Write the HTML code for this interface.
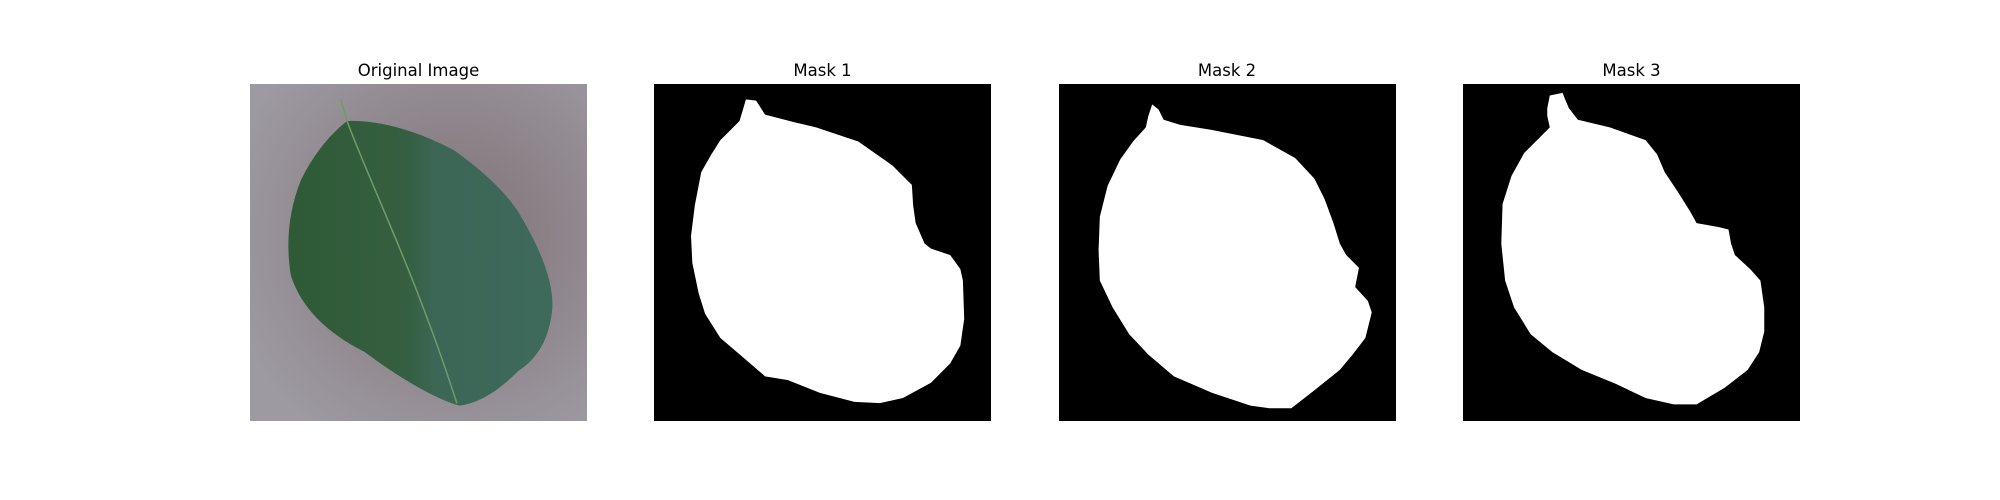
<!DOCTYPE html>
<html><head><meta charset="utf-8"><style>
html,body{margin:0;padding:0;background:#fff}
svg{display:block}
text{font-family:"DejaVu Sans","Liberation Sans",sans-serif;font-size:16.5px;fill:#000}
</style></head><body>
<svg width="2000" height="500" viewBox="0 0 2000 500">
<defs>
<linearGradient id="lg" x1="0" y1="0" x2="1" y2="0">
<stop offset="0" stop-color="#2f5a36"/><stop offset="0.45" stop-color="#355f40"/><stop offset="0.55" stop-color="#3c6656"/><stop offset="1" stop-color="#3e6a5c"/>
</linearGradient>
<radialGradient id="bg" cx="0.6" cy="0.45" r="0.7">
<stop offset="0" stop-color="#7e7276"/><stop offset="1" stop-color="#9e9aa2"/>
</radialGradient>
</defs>
<g>
<text x="418.5" y="76" text-anchor="middle">Original Image</text>
<rect x="250" y="84" width="337" height="337" fill="url(#bg)"/>
<g transform="translate(250,84) scale(1.2765)">
<path fill="url(#lg)" d="M76,29 C100,28 130,36 160,52 C185,70 200,85 210,100 C225,125 237,150 237,174 C235,200 225,215 210,225 C195,240 180,250 164,252 C140,245 110,225 90,210 C60,195 40,175 32,150 C28,125 30,100 40,75 C50,55 62,40 76,29 Z"/>
<path d="M71,12 L76,29 C95,80 130,150 162,250" stroke="#6f9a6a" stroke-width="1.2" fill="none"/>
</g>
</g>
<g>
<text x="822.5" y="76" text-anchor="middle">Mask 1</text>
<rect x="654" y="84" width="337" height="337" fill="#000"/>
<g transform="translate(654,84) scale(1.2765)">
<path fill="#fff" d="M72,12 L80,13 L87,24 L110,30 L127,34 L160,45 L187,64 L202,79 L203,95 L205,109 L212,125 L217,129 L232,134 L240,145 L242,154 L243,184 L240,205 L232,219 L217,234 L195,246 L177,250 L157,249 L130,242 L105,232 L87,229 L65,210 L52,199 L40,180 L35,164 L30,140 L29,119 L32,95 L37,69 L45,55 L52,44 L67,29 L70,19 Z"/>
</g>
</g>
<g>
<text x="1227" y="76" text-anchor="middle">Mask 2</text>
<rect x="1059" y="84" width="337" height="337" fill="#000"/>
<g transform="translate(1059,84) scale(1.2765)">
<path fill="#fff" d="M73,16 L78,20 L82,28 L95,32 L120,36 L160,44 L185,58 L200,74 L208,90 L215,109 L220,125 L225,134 L235,144 L232,159 L242,170 L245,179 L240,199 L230,212 L220,224 L200,240 L182,254 L165,254 L150,252 L120,242 L90,229 L70,212 L55,196 L42,175 L32,154 L31,130 L32,104 L38,80 L48,59 L58,45 L68,34 L70,25 Z"/>
</g>
</g>
<g>
<text x="1631.5" y="76" text-anchor="middle">Mask 3</text>
<rect x="1463" y="84" width="337" height="337" fill="#000"/>
<g transform="translate(1463,84) scale(1.2765)">
<path fill="#fff" d="M68,9 L78,7 L80,12 L83,19 L90,28 L115,34 L143,44 L152,55 L158,69 L168,84 L178,100 L183,109 L200,112 L208,114 L210,125 L213,134 L225,145 L233,154 L236,175 L236,194 L232,210 L223,224 L205,238 L183,251 L165,251 L143,246 L120,235 L93,224 L70,210 L53,196 L40,175 L33,154 L30,125 L31,94 L38,72 L48,54 L60,42 L68,34 L66,25 L66,19 Z"/>
</g>
</g>
</svg>
</body></html>
